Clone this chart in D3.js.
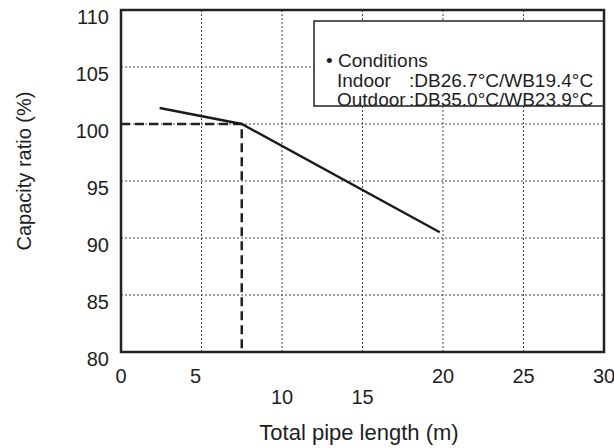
<!DOCTYPE html>
<html>
<head>
<meta charset="utf-8">
<script src="https://cdn.jsdelivr.net/npm/d3@7"></script>
<style>
  body { margin: 0; background: #fff; }
  text { font-family: "Liberation Sans", Arial, sans-serif; fill: #1e1e1e; }
</style>
</head>
<body>
<script>
// capacity curve
const pipeLength = [2.4, 7.5, 19.8];
const capacityRatio = [101.4, 100, 90.5];
// reference point (dashed)
const refLength = 7.5;
const refRatio = 100;

const xTicks = [0, 5, 10, 15, 20, 25, 30];
const yTicks = [80, 85, 90, 95, 100, 105, 110];
const lowTicks = [10, 15]; // these labels sit on a second row

const condTitle = "• Conditions";
const condNames = ["Indoor", "Outdoor"];
const condValues = [":DB26.7°C/WB19.4°C", ":DB35.0°C/WB23.9°C"];

const width = 614, height = 448;
const margin = { top: 10, right: 10, bottom: 96, left: 121 };

const svg = d3.select("body")
  .append("svg")
  .attr("width", width)
  .attr("height", height);

const x = d3.scaleLinear().domain([0, 30]).range([margin.left, width - margin.right]);
const y = d3.scaleLinear().domain([80, 110]).range([height - margin.bottom, margin.top]);

// grid
const grid = svg.append("g")
  .attr("stroke", "#444")
  .attr("stroke-width", 1)
  .attr("stroke-dasharray", "2,2");

grid.selectAll("line.v")
  .data(xTicks.slice(1, -1))
  .enter()
  .append("line")
  .attr("class", "v")
  .attr("x1", d => x(d)).attr("x2", d => x(d))
  .attr("y1", y(110)).attr("y2", y(80));

grid.selectAll("line.h")
  .data(yTicks.slice(1, -1))
  .enter()
  .append("line")
  .attr("class", "h")
  .attr("x1", x(0)).attr("x2", x(30))
  .attr("y1", d => y(d)).attr("y2", d => y(d));

// conditions box
const box = svg.append("g");
box.append("rect")
  .attr("x", 314).attr("y", 21)
  .attr("width", x(30) - 314).attr("height", 85)
  .attr("fill", "#fff");

box.append("text")
  .attr("x", 326).attr("y", 67)
  .attr("font-size", 19)
  .text(condTitle);

box.selectAll("text.name")
  .data(condNames)
  .enter()
  .append("text")
  .attr("class", "name")
  .attr("x", 337)
  .attr("y", (d, i) => 87 + i * 19)
  .attr("font-size", 19)
  .text(d => d);

box.selectAll("text.val")
  .data(condValues)
  .enter()
  .append("text")
  .attr("class", "val")
  .attr("x", 409)
  .attr("y", (d, i) => 87 + i * 19)
  .attr("font-size", 19)
  .text(d => d);

box.append("rect")
  .attr("x", 314).attr("y", 21)
  .attr("width", x(30) - 314).attr("height", 85)
  .attr("fill", "none")
  .attr("stroke", "#222")
  .attr("stroke-width", 1.5);

// dashed reference
svg.append("path")
  .attr("d", d3.line()([[x(0), y(refRatio)], [x(refLength), y(refRatio)], [x(refLength), y(80)]]))
  .attr("fill", "none")
  .attr("stroke", "#222")
  .attr("stroke-width", 2.5)
  .attr("stroke-dasharray", "9,5");

// capacity line
const line = d3.line()
  .x(d => x(d[0]))
  .y(d => y(d[1]));

svg.append("path")
  .datum(pipeLength.map((d, i) => [d, capacityRatio[i]]))
  .attr("d", line)
  .attr("fill", "none")
  .attr("stroke", "#1a1a1a")
  .attr("stroke-width", 2.4);

// frame
svg.append("rect")
  .attr("x", x(0)).attr("y", y(110))
  .attr("width", x(30) - x(0)).attr("height", y(80) - y(110))
  .attr("fill", "none")
  .attr("stroke", "#222")
  .attr("stroke-width", 2.5);

// tick labels
svg.selectAll("text.yt")
  .data(yTicks)
  .enter()
  .append("text")
  .attr("class", "yt")
  .attr("x", 109)
  .attr("y", d => y(d))
  .attr("dy", "0.72em")
  .attr("text-anchor", "end")
  .attr("font-size", 20)
  .text(d => d);

svg.selectAll("text.xt")
  .data(xTicks)
  .enter()
  .append("text")
  .attr("class", "xt")
  .attr("x", d => x(d) - (d === 5 ? 6 : 0))
  .attr("y", d => y(80) + (lowTicks.includes(d) ? 52 : 31))
  .attr("text-anchor", "middle")
  .attr("font-size", 20)
  .text(d => d);

// axis titles
svg.append("text")
  .attr("x", 359).attr("y", 440)
  .attr("text-anchor", "middle")
  .attr("font-size", 22)
  .text("Total pipe length (m)");

svg.append("text")
  .attr("transform", "translate(31,171) rotate(-90)")
  .attr("text-anchor", "middle")
  .attr("font-size", 20)
  .text("Capacity ratio (%)");
</script>
</body>
</html>
